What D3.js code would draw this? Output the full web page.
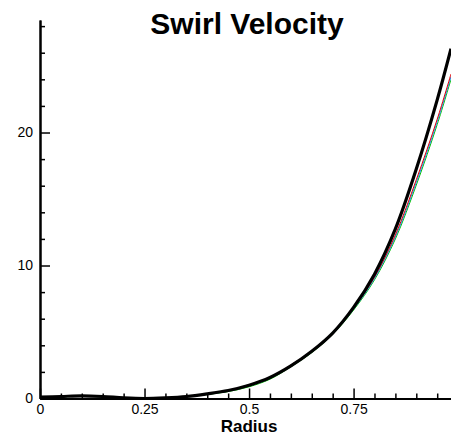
<!DOCTYPE html>
<html>
<head>
<meta charset="utf-8">
<script src="https://cdn.jsdelivr.net/npm/d3@7"></script>
<style>
  body { margin: 0; background: #fff; }
  text { font-family: "Liberation Sans", Arial, Helvetica, sans-serif; }
</style>
</head>
<body>
<div id="chart"></div>
<script>
var width = 451
var height = 435

// radius samples
var radius = [0, 0.05, 0.1, 0.15, 0.2, 0.25, 0.3, 0.35, 0.4, 0.45, 0.5, 0.55, 0.6, 0.65, 0.7, 0.75, 0.8, 0.85, 0.9, 0.95, 0.983]

// swirl velocity, thick black curve
var vBlack = [0.10, 0.15, 0.20, 0.15, 0.05, 0.00, 0.05, 0.15, 0.35, 0.60, 1.00, 1.58, 2.45, 3.55, 4.92, 6.85, 9.35, 12.75, 17.25, 22.45, 26.30]
// thin coloured curves
var vRed   = [0.08, 0.14, 0.18, 0.14, 0.04, 0.00, 0.04, 0.14, 0.33, 0.58, 0.97, 1.58, 2.52, 3.58, 4.92, 6.78, 9.12, 12.30, 16.45, 21.00, 24.40]
var vBlue  = [0.08, 0.13, 0.18, 0.13, 0.04, 0.00, 0.04, 0.13, 0.32, 0.56, 0.95, 1.52, 2.44, 3.50, 4.86, 6.72, 9.02, 12.15, 16.25, 20.80, 24.20]
var vGreen = [0.07, 0.12, 0.17, 0.12, 0.03, 0.00, 0.03, 0.12, 0.30, 0.52, 0.88, 1.45, 2.38, 3.45, 4.82, 6.65, 8.92, 12.00, 16.05, 20.60, 24.00]

var xMajor = [0, 0.25, 0.5, 0.75]
var xMinor = [0.05, 0.1, 0.15, 0.2, 0.3, 0.35, 0.4, 0.45, 0.55, 0.6, 0.65, 0.7, 0.8, 0.85, 0.9, 0.95]
var yMajor = [0, 10, 20]
var yMinor = [2, 4, 6, 8, 12, 14, 16, 18, 22, 24, 26, 28]

var svg = d3.select("#chart")
  .append("svg")
  .attr("width", width)
  .attr("height", height)

var x = d3.scaleLinear().domain([0, 0.983]).range([40, 451])
var y = d3.scaleLinear().domain([0, 28.46]).range([398.5, 20])

var line = d3.line()
  .x(function(d) { return x(d[0]) })
  .y(function(d) { return y(d[1]) })
  .curve(d3.curveCatmullRom.alpha(0.5))

function pairs(vals) {
  return radius.map(function(r, i) { return [r, vals[i]] })
}

var series = [
  { vals: vGreen, color: "#00c000", w: 1 },
  { vals: vBlue, color: "#1e90ff", w: 1 },
  { vals: vRed, color: "#e00000", w: 1 },
  { vals: vBlack, color: "#000", w: 3.2 }
]

svg.append("g")
  .selectAll("path")
  .data(series)
  .enter().append("path")
  .attr("fill", "none")
  .attr("stroke", function(d) { return d.color })
  .attr("stroke-width", function(d) { return d.w })
  .attr("d", function(d) { return line(pairs(d.vals)) })

// axes, ticks pointing inward
function styleAxis(g) {
  g.select(".domain").attr("stroke", "#000").attr("stroke-width", 2)
  g.selectAll(".tick line").attr("stroke", "#000").attr("stroke-width", 1.5)
  g.selectAll("text").attr("font-size", 14).attr("fill", "#000")
    .style("font-family", "'Liberation Sans', Arial, sans-serif")
}

svg.append("g")
  .attr("transform", "translate(0," + y(0) + ")")
  .call(d3.axisBottom(x).tickValues(xMinor).tickSize(-5).tickSizeOuter(0).tickFormat(""))
  .call(styleAxis)

svg.append("g")
  .attr("transform", "translate(0," + y(0) + ")")
  .call(d3.axisBottom(x).tickValues(xMajor).tickSize(-10).tickSizeOuter(0).tickPadding(6)
    .tickFormat(function(d) { return d === 0 ? "0" : String(d) }))
  .call(styleAxis)

svg.append("g")
  .attr("transform", "translate(" + x(0) + ",0)")
  .call(d3.axisLeft(y).tickValues(yMinor).tickSize(-5).tickSizeOuter(0).tickFormat(""))
  .call(styleAxis)

svg.append("g")
  .attr("transform", "translate(" + x(0) + ",0)")
  .call(d3.axisLeft(y).tickValues(yMajor).tickSize(-10).tickSizeOuter(0).tickPadding(7))
  .call(styleAxis)

svg.append("text")
  .attr("x", 247)
  .attr("y", 34)
  .attr("text-anchor", "middle")
  .attr("font-size", 30)
  .attr("font-weight", "bold")
  .text("Swirl Velocity")

svg.append("text")
  .attr("x", 249)
  .attr("y", 432)
  .attr("text-anchor", "middle")
  .attr("font-size", 17)
  .attr("font-weight", "bold")
  .text("Radius")
</script>
</body>
</html>
